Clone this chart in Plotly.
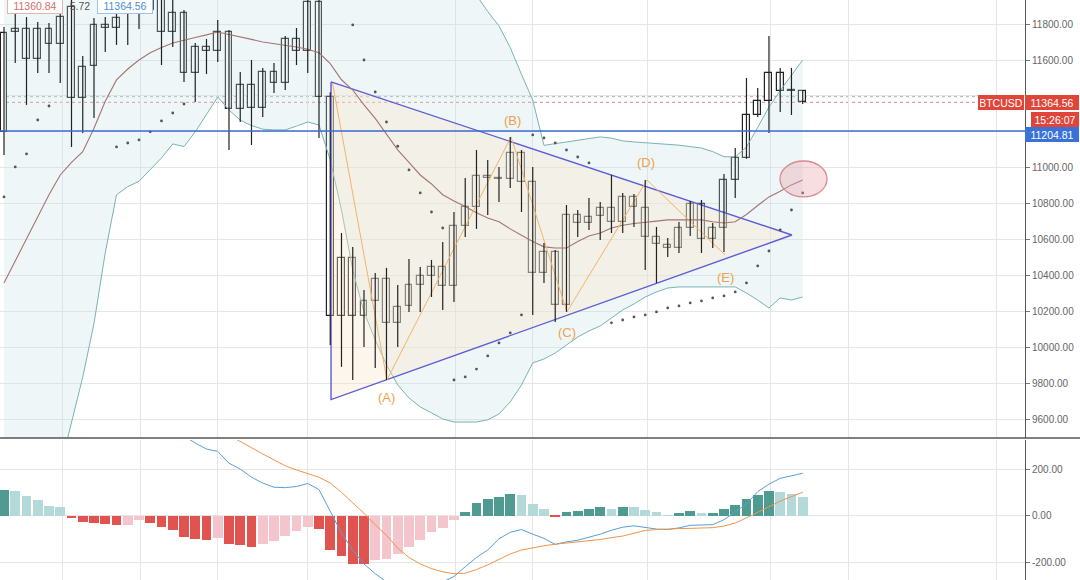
import plotly.graph_objects as go
from plotly.subplots import make_subplots

# ---------------- data ----------------
idx = list(range(72))
opens = [11199, 11756, 11773, 11606, 11773, 11689, 11895, 11389, 11567, 11795,
         11778, 11856, 11925, 11880, 11980, 11756, 11862, 11528, 11672, 11650,
         11756, 11327, 11461, 11333, 11472, 11472, 11650, 11650, 11923, 11394,
         10175, 10498, 10175, 10259, 10381, 10136, 10231, 10348, 10398, 10448,
         10342, 10676, 10782, 10954, 10943, 10938, 11083, 10921, 10415, 10531,
         10237, 10737, 10693, 10732, 10776, 10698, 10838, 10776, 10615, 10570,
         10554, 10665, 10799, 10604, 10665, 10932, 11055, 11294, 11372, 11528,
         11428, 11428]
highs = [11784, 11862, 11839, 11812, 11806, 11906, 11960, 11622, 11834, 11839,
         11923, 11960, 11990, 11990, 12010, 11940, 11878, 11695, 11717, 11823,
         11767, 11533, 11600, 11556, 11583, 11734, 11778, 11960, 11970, 11420,
         10637, 10559, 10320, 10415, 10443, 10348, 10493, 10448, 10487, 10587,
         10754, 10943, 11099, 11044, 11005, 11172, 11099, 11005, 10582, 10543,
         10793, 10765, 10832, 10810, 10960, 10860, 10854, 10932, 10671, 10609,
         10699, 10815, 10821, 10693, 10966, 11110, 11500, 11444, 11734, 11556,
         11556, 11430]
lows = [11071, 11583, 11350, 11528, 11528, 11472, 11116, 11194, 11277, 11645,
        11684, 11684, 11773, 11860, 11572, 11672, 11478, 11366, 11522, 11589,
        11099, 11255, 11127, 11283, 11416, 11433, 11572, 11528, 11166, 10014,
        9892, 9819, 10003, 9886, 9819, 10003, 10198, 10198, 10281, 10209,
        10253, 10615, 10660, 10737, 10810, 10888, 10754, 10181, 10359, 10142,
        10198, 10615, 10654, 10598, 10637, 10637, 10671, 10431, 10359, 10504,
        10526, 10621, 10526, 10554, 10531, 10832, 11050, 11283, 11194, 11311,
        11294, 11355]
closes = [11750, 11773, 11606, 11773, 11689, 11839, 11389, 11561, 11795, 11778,
          11834, 11925, 11860, 11950, 11756, 11862, 11528, 11672, 11650, 11756,
          11327, 11461, 11333, 11533, 11533, 11717, 11717, 11923, 11394, 10175,
          10498, 10175, 10259, 10381, 10136, 10225, 10348, 10398, 10448, 10342,
          10676, 10782, 10954, 10943, 10938, 11083, 10921, 10415, 10531, 10237,
          10737, 10693, 10726, 10776, 10698, 10838, 10782, 10615, 10576, 10554,
          10665, 10799, 10604, 10665, 10932, 11055, 11294, 11372, 11528, 11428,
          11433, 11364.56]

bb_upper = [12420, 12380, 12350, 12330, 12320, 12330, 12330, 12340, 12320, 12290,
            12240, 12230, 12250, 12270, 12280, 12270, 12260, 12240, 12200, 12120,
            12160, 12190, 12190, 12180, 12175, 12160, 12110, 12090, 12080, 12130,
            12280, 12500, 12520, 12520, 12480, 12400, 12330, 12240, 12180, 12100,
            12050, 12010, 11960, 11870, 11790, 11670, 11520, 11377, 11125, 11135,
            11144, 11152, 11165, 11172, 11165, 11150, 11144, 11140, 11138, 11132,
            11126, 11118, 11110, 11090, 11062, 11060, 11116, 11225, 11338, 11430,
            11515, 11600]
bb_basis = [10359, 10480, 10600, 10720, 10850, 10960, 11030, 11090, 11220, 11370,
            11489, 11550, 11600, 11640, 11670, 11695, 11712, 11725, 11740, 11756,
            11742, 11730, 11715, 11700, 11692, 11683, 11672, 11660, 11640, 11580,
            11490, 11433, 11350, 11275, 11190, 11100, 11030, 10960, 10910, 10850,
            10815, 10785, 10750, 10720, 10700, 10660, 10625, 10590, 10560, 10554,
            10554, 10590, 10620, 10637, 10665, 10680, 10690, 10695, 10703, 10710,
            10710, 10710, 10710, 10700, 10693, 10700, 10740, 10790, 10838, 10870,
            10905, 10932]
bb_lower = [8350, 8600, 8800, 9000, 9180, 9330, 9580, 9835, 10134, 10527,
            10850, 10895, 10925, 10990, 11055, 11133, 11118, 11200, 11300, 11394,
            11322, 11265, 11235, 11215, 11211, 11211, 11232, 11255, 11238, 11044,
            10765, 10431, 10198, 10042, 9903, 9791, 9719, 9669, 9636, 9602,
            9585, 9585, 9585, 9597, 9630, 9697, 9791, 9914, 9936, 9969,
            10014, 10058, 10092, 10120, 10164, 10209, 10242, 10281, 10309, 10331,
            10337, 10337, 10337, 10337, 10337, 10337, 10303, 10264, 10220, 10276,
            10264, 10281]

sar_idx = [0, 1, 2, 3, 4, 10, 11, 12, 13, 14, 15, 16,
           31, 32, 33, 34, 35, 36, 37, 38, 39,
           40, 41, 42, 43, 44, 45, 46,
           47, 48, 49, 50, 51, 52,
           54, 55, 56, 57, 58, 59, 60, 61, 62, 63, 64, 65, 66, 67, 68, 69, 70, 71]
sar_val = [10838, 11005, 11077, 11266, 11344, 11116, 11138, 11155, 11200, 11261, 11305, 11355,
           11795, 11600, 11422, 11255, 11120, 10988, 10860, 10754, 10665,
           9819, 9836, 9880, 9953, 10025, 10081, 10181,
           11183, 11166, 11138, 11099, 11060, 11027,
           10137, 10153, 10170, 10181, 10198, 10220, 10231, 10248, 10259, 10276, 10287,
           10309, 10359, 10454, 10537, 10654, 10765, 10860]

macd_hist = [112, 106, 83, 68, 43, 36, -10, -29, -33, -36,
             -41, -40, -19, -30, -51, -62, -91, -101, -106, -97,
             -123, -126, -133, -120, -109, -87, -68, -48, -59, -148,
             -174, -207, -210, -193, -185, -164, -136, -103, -71, -54,
             -17, 17, 53, 70, 81, 93, 89, 50, 30, -4,
             14, 20, 27, 36, 30, 39, 36, 26, 14, 1,
             9, 20, 10, 12, 30, 45, 70, 90, 104, 100,
             91, 78]
macd_line = [536, 552, 550, 552, 541, 543, 504, 483, 473, 463,
             450, 443, 460, 443, 412, 389, 342, 312, 286, 276,
             225, 200, 165, 140, 122, 120, 125, 138, 112, 15,
             -75, -150, -208, -250, -285, -305, -318, -318, -305, -285,
             -262, -220, -180, -148, -100, -72, -60, -80, -98, -124,
             -113, -106, -93, -80, -63, -50, -44, -52, -58, -60,
             -53, -42, -40, -39, -18, 15, 50, 103, 135, 160,
             172, 182]
macd_signal = [424, 446, 467, 484, 498, 507, 514, 512, 506, 499,
               491, 483, 479, 473, 463, 451, 433, 413, 392, 373,
               345, 320, 292, 265, 238, 214, 196, 180, 165, 140,
               100, 55, 10, -40, -85, -140, -180, -208, -228, -242,
               -250, -248, -232, -212, -190, -165, -148, -138, -130, -123,
               -118, -113, -109, -103, -95, -88, -76, -64, -60, -57,
               -56, -55, -53, -52, -45, -32, -10, 15, 40, 62,
               82, 100]

# drawings
tri_idx = [29.07, 70.04, 29.07, 29.07]
tri_price = [11478, 10626, 9710, 11478]
wave_idx = [29.2, 34.04, 45.07, 50.04, 57.16, 64.1]
wave_price = [11472, 9819, 11172, 10198, 10932, 10515]
wave_labels = ["(A)", "(B)", "(C)", "(D)", "(E)"]
label_idx = [34.04, 45.2, 50.04, 57.07, 64.1]
label_price = [9719, 11266, 10086, 11027, 10392]
ellipse_idx = [68.98, 73.16]
ellipse_price = [10838, 11038]

support_level = 11204.81
last_price = 11364.56
prev_level = 11396
grid_idx = [5.16, 12.09, 19.0, 27.0, 40.1, 47.0, 57.2, 68.1, 75.1, 88.2]
price_ticks = [9600, 9800, 10000, 10200, 10400, 10600, 10800, 11000, 11200, 11400, 11600, 11800]
hidden_ticks = [11200, 11400]   # covered by the price labels
macd_ticks = [-200, 0, 200]
macd_ticktext = ["-200.00", "0.00", "200.00"]

# ---------------- styles ----------------
BAND = '#7ab3b3'
BASIS = '#a27672'
TRI = '#5c5cd6'
WAVE = '#f2b46a'
FONT = 'Liberation Sans'

fig = make_subplots(rows=2, cols=1, shared_xaxes=True)

fig.add_trace(go.Scatter(x=idx, y=bb_upper, mode='lines', line=dict(color=BAND, width=1),
                         hoverinfo='skip'), row=1, col=1)
fig.add_trace(go.Scatter(x=idx, y=bb_lower, mode='lines', line=dict(color=BAND, width=1),
                         fill='tonexty', fillcolor='rgba(195,222,225,0.28)', hoverinfo='skip'),
              row=1, col=1)
fig.add_trace(go.Scatter(x=tri_idx, y=tri_price, mode='lines', fill='toself',
                         fillcolor='rgba(248,230,200,0.34)', line=dict(color=TRI, width=1.4),
                         hoverinfo='skip'), row=1, col=1)
fig.add_trace(go.Scatter(x=idx, y=bb_basis, mode='lines', line=dict(color=BASIS, width=1.1),
                         hoverinfo='skip'), row=1, col=1)
fig.add_trace(go.Scatter(x=wave_idx, y=wave_price, mode='lines', line=dict(color=WAVE, width=1),
                         hoverinfo='skip'), row=1, col=1)
fig.add_trace(go.Scatter(x=sar_idx, y=sar_val, mode='markers',
                         marker=dict(size=2.8, color='#555555'), hoverinfo='skip'), row=1, col=1)

# candles: wicks (lines) + hollow bodies (bars)
wick_x, wick_y = [], []
for i, h, l in zip(idx, highs, lows):
    wick_x += [i, i, None]
    wick_y += [l, h, None]
fig.add_trace(go.Scatter(x=wick_x, y=wick_y, mode='lines', line=dict(color='#222222', width=1.2),
                         hoverinfo='skip', connectgaps=False), row=1, col=1)
body_base = [min(o, c) for o, c in zip(opens, closes)]
body_len = [abs(c - o) for o, c in zip(opens, closes)]
fig.add_trace(go.Bar(x=idx, y=body_len, base=body_base, width=0.62, opacity=1,
                     marker=dict(color='#ffffff', opacity=1, line=dict(color='#222222', width=1.2)),
                     hoverinfo='skip'), row=1, col=1)

# MACD pane
hist_colors = []
for k, v in enumerate(macd_hist):
    prev = macd_hist[k - 1] if k > 0 else 0
    if v >= 0:
        hist_colors.append('#4f9b91' if v > prev else '#b3d9d9')
    else:
        hist_colors.append('#e0534f' if v < prev else '#f4c5cc')
fig.add_trace(go.Bar(x=idx, y=macd_hist, marker=dict(color=hist_colors, line=dict(width=0)),
                     width=0.88, opacity=1, hoverinfo='skip'), row=2, col=1)
fig.add_trace(go.Scatter(x=idx, y=macd_line, mode='lines', line=dict(color='#5a9fd4', width=1),
                         hoverinfo='skip'), row=2, col=1)
fig.add_trace(go.Scatter(x=idx, y=macd_signal, mode='lines', line=dict(color='#f0944a', width=1),
                         hoverinfo='skip'), row=2, col=1)

fig.update_layout(
    width=1080, height=580, margin=dict(l=0, r=55, t=0, b=0),
    paper_bgcolor='white', plot_bgcolor='white', showlegend=False,
    font=dict(family=FONT, size=10, color='#555555'),
    bargap=0, barmode='overlay',
)
xcommon = dict(range=[-0.356, 90.76], tickvals=grid_idx, showticklabels=False, ticks='',
               showgrid=True, gridcolor='#e6e6e6', gridwidth=1, zeroline=False,
               rangeslider=dict(visible=False), domain=[0, 1])
fig.update_layout(xaxis=xcommon, xaxis2=xcommon)
fig.update_layout(
    yaxis=dict(domain=[0.2448, 1], range=[9496, 11934], side='right',
               tickvals=price_ticks,
               ticktext=["" if v in hidden_ticks else f"{v:.2f}" for v in price_ticks],
               showgrid=True, gridcolor='#e6e6e6', zeroline=False,
               ticks='outside', ticklen=4, tickcolor='#777777',
               showline=True, linecolor='#555555', linewidth=1,
               tickfont=dict(family=FONT, size=10, color='#666666')),
    yaxis2=dict(domain=[0, 0.2414], range=[-277, 325], side='right',
                tickvals=macd_ticks, ticktext=macd_ticktext,
                showgrid=True, gridcolor='#e6e6e6', zeroline=False,
                ticks='outside', ticklen=4, tickcolor='#777777',
                showline=True, linecolor='#555555', linewidth=1,
                tickfont=dict(family=FONT, size=10, color='#666666')),
)

shapes = [
    dict(type='line', xref='paper', x0=0, x1=1, yref='y', y0=prev_level, y1=prev_level,
         line=dict(color='#b0b0b0', width=1, dash='dot'), layer='below'),
    dict(type='line', xref='paper', x0=0, x1=1, yref='y', y0=last_price, y1=last_price,
         line=dict(color='#e08080', width=1, dash='dot'), layer='below'),
    dict(type='line', xref='paper', x0=0, x1=1, yref='y', y0=support_level, y1=support_level,
         line=dict(color='#3d6bd0', width=1.6), layer='above'),
    dict(type='circle', xref='x', yref='y', x0=ellipse_idx[0], x1=ellipse_idx[1],
         y0=ellipse_price[0], y1=ellipse_price[1],
         fillcolor='rgba(232,160,168,0.35)', line=dict(color='#d98a8e', width=1.3), layer='above'),
    dict(type='line', xref='paper', x0=0, x1=1.06, yref='paper', y0=0.2448, y1=0.2448,
         line=dict(color='#555555', width=1.5)),
]
fig.update_layout(shapes=shapes)

ann = []
for t, xi, yp in zip(wave_labels, label_idx, label_price):
    ann.append(dict(text=t, x=xi, y=yp, xref='x', yref='y', showarrow=False,
                    font=dict(family=FONT, size=13, color='#eda24a')))

def box(text, xc, yc, w, h, bg, fg, border=None):
    return dict(text=text, x=xc / 1025, y=1 - yc / 580, xref='paper', yref='paper',
                showarrow=False, xanchor='center', yanchor='middle', width=w, height=h,
                bgcolor=bg, bordercolor=border or bg, borderwidth=1, borderpad=1,
                font=dict(family=FONT, size=10.5, color=fg))

ann.append(box("11360.84", 35, 6, 52, 12, 'white', '#d66e66', '#e7b3ae'))
ann.append(box("5.72", 80, 6, 20, 12, 'rgba(255,255,255,0)', '#555555', 'rgba(255,255,255,0)'))
ann.append(box("11364.56", 125, 6, 52, 12, 'white', '#4a8fd0', '#9fc4e8'))
ann.append(box("BTCUSD", 1001, 103, 42, 11, '#e0453a', 'white'))
ann.append(box("11364.56", 1052, 103, 50, 11, '#e0453a', 'white'))
ann.append(box("15:26:07", 1055, 119, 44, 11, '#e0453a', 'white'))
ann.append(box("11204.81", 1052, 134.5, 50, 11, '#3a72d8', 'white'))
fig.update_layout(annotations=ann)

fig.write_html("out.html", config={'displayModeBar': False},
               post_script="document.body.style.margin='0';document.body.style.overflow='hidden';")
